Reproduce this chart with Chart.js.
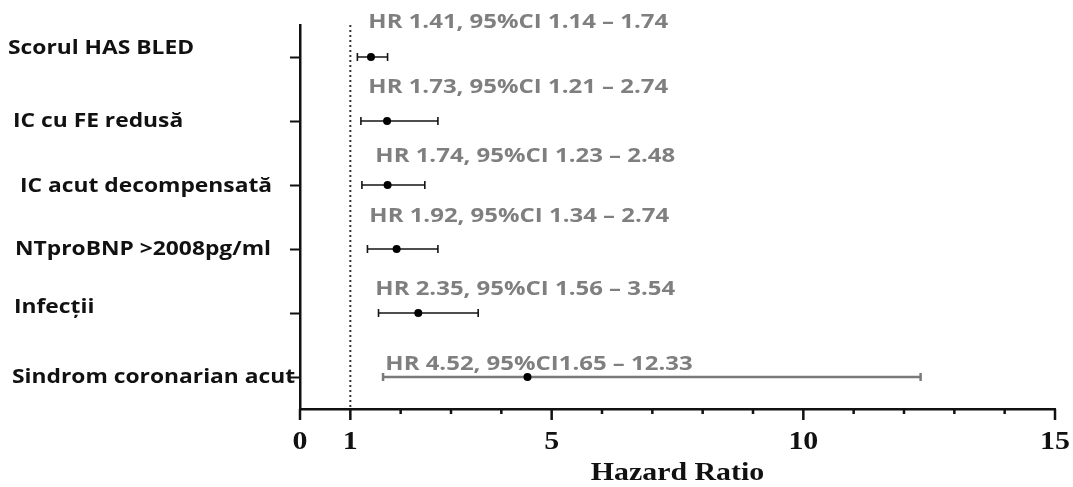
<!DOCTYPE html>
<html>
<head>
<meta charset="utf-8">
<script src="https://cdn.jsdelivr.net/npm/chart.js@4"></script>
<style>
  html, body { margin: 0; padding: 0; background: #fff; }
  #forest { display: block; }
</style>
</head>
<body>
<canvas id="forest" width="1073" height="487"></canvas>
<script>
// risk factors, top to bottom
const factors = [
  "Scorul HAS BLED",
  "IC cu FE redusă",
  "IC acut decompensată",
  "NTproBNP >2008pg/ml",
  "Infecții",
  "Sindrom coronarian acut"
];
const hazard = [1.41, 1.73, 1.74, 1.92, 2.35, 4.52];
const ciLow = [1.14, 1.21, 1.23, 1.34, 1.56, 1.65];
const ciHigh = [1.74, 2.74, 2.48, 2.74, 3.54, 12.33];
const xTickLabels = [0, 1, 5, 10, 15];
const xTitle = "Hazard Ratio";

// nudges for the hand-placed text (px): row labels from the left edge,
// HR notes from the x = 1 line, both relative to the row centre
const labelShift = [[8, -8], [13, 1], [20, 2], [15, 1], [14, -5], [12, 1]];
const noteShift = [[18, -34], [18, -33], [25, -28], [19, -32], [25, -23], [35, -12]];
const whiskerTone = ["#151515", "#151515", "#151515", "#151515", "#151515", "#7a7a7a"];

const fmt = v => v.toFixed(2);
const notes = hazard.map((h, i) =>
  "HR " + fmt(h) + ", 95%CI" + (i === hazard.length - 1 ? "" : " ") + fmt(ciLow[i]) + " – " + fmt(ciHigh[i])
);

const SANS = "bold 19px 'Open Sans', sans-serif";
const SERIF = "bold 26px 'Liberation Serif', serif";
const LABEL_SX = 1.2;
const NOTE_SX = 1.26;
const SERIF_SX = 1.15;

// text stretched horizontally around its anchor
function wideText(ctx, text, x, y, font, color, align, sx) {
  ctx.save();
  ctx.font = font;
  ctx.fillStyle = color;
  ctx.textAlign = align;
  ctx.textBaseline = "middle";
  ctx.translate(x, y);
  ctx.scale(sx, 1);
  ctx.fillText(text, 0, 0);
  ctx.restore();
}

const forestPlugin = {
  id: "forest",
  beforeDatasetsDraw(chart) {
    const { ctx, chartArea, scales: { x, y } } = chart;
    ctx.save();

    // dotted no-effect line at HR = 1
    const x1 = x.getPixelForValue(1);
    ctx.strokeStyle = "#333";
    ctx.lineWidth = 2;
    ctx.setLineDash([2, 3]);
    ctx.beginPath();
    ctx.moveTo(x1, chartArea.top);
    ctx.lineTo(x1, chartArea.bottom);
    ctx.stroke();
    ctx.setLineDash([]);

    // confidence interval whiskers
    factors.forEach((f, i) => {
      const py = y.getPixelForValue(i);
      const a = x.getPixelForValue(ciLow[i]);
      const b = x.getPixelForValue(ciHigh[i]);
      ctx.strokeStyle = whiskerTone[i];
      ctx.lineWidth = i === factors.length - 1 ? 2.5 : 1.6;
      ctx.beginPath();
      ctx.moveTo(a, py);
      ctx.lineTo(b, py);
      ctx.moveTo(a, py - 4);
      ctx.lineTo(a, py + 4);
      ctx.moveTo(b, py - 4);
      ctx.lineTo(b, py + 4);
      ctx.stroke();
    });
    ctx.restore();

    // HR notes above each row
    notes.forEach((t, i) => {
      const py = y.getPixelForValue(i);
      wideText(ctx, t, x1 + noteShift[i][0], py + noteShift[i][1], SANS, "#7f7f7f", "left", NOTE_SX);
    });
  },
  afterDraw(chart) {
    const { ctx, chartArea, scales: { x, y } } = chart;

    // x tick marks: long on labelled values, short elsewhere
    ctx.save();
    ctx.strokeStyle = "#111";
    ctx.lineWidth = 2.5;
    ctx.beginPath();
    x.ticks.forEach(t => {
      const px = x.getPixelForValue(t.value);
      const len = xTickLabels.includes(t.value) ? 11 : 5;
      ctx.moveTo(px, chartArea.bottom);
      ctx.lineTo(px, chartArea.bottom + len);
    });
    ctx.stroke();
    ctx.restore();

    // x tick labels and axis title
    x.ticks.forEach(t => {
      if (!xTickLabels.includes(t.value)) return;
      wideText(ctx, String(t.value), x.getPixelForValue(t.value), chartArea.bottom + 33, SERIF, "#111", "center", SERIF_SX);
    });
    wideText(ctx, xTitle, (chartArea.left + chartArea.right) / 2, chartArea.bottom + 64, SERIF, "#111", "center", SERIF_SX);

    // row labels on the left
    factors.forEach((f, i) => {
      const py = y.getPixelForValue(i);
      wideText(ctx, f, labelShift[i][0], py + labelShift[i][1], SANS, "#111", "left", LABEL_SX);
    });
  }
};

new Chart(document.getElementById("forest"), {
  type: "scatter",
  data: {
    datasets: [{
      data: hazard.map((h, i) => ({ x: h, y: factors[i] })),
      pointRadius: 4,
      pointHoverRadius: 4,
      backgroundColor: "#000",
      borderWidth: 0
    }]
  },
  options: {
    responsive: false,
    devicePixelRatio: 1,
    animation: false,
    layout: { padding: { left: 10, top: 25, right: 18, bottom: 0 } },
    plugins: { legend: { display: false }, tooltip: { enabled: false } },
    scales: {
      x: {
        type: "linear",
        min: 0,
        max: 15,
        afterFit: s => { s.height = 78; },
        ticks: { stepSize: 1, autoSkip: false, display: false },
        grid: { display: false, drawTicks: false },
        border: { color: "#111", width: 2.5 }
      },
      y: {
        type: "category",
        labels: factors,
        offset: true,
        afterFit: s => { s.width = 290; },
        ticks: { display: false },
        grid: {
          display: true,
          offset: false,
          drawOnChartArea: false,
          drawTicks: true,
          tickLength: 10,
          tickWidth: 2,
          tickColor: "#111"
        },
        border: { color: "#111", width: 2.5 }
      }
    }
  },
  plugins: [forestPlugin]
});
</script>
</body>
</html>
